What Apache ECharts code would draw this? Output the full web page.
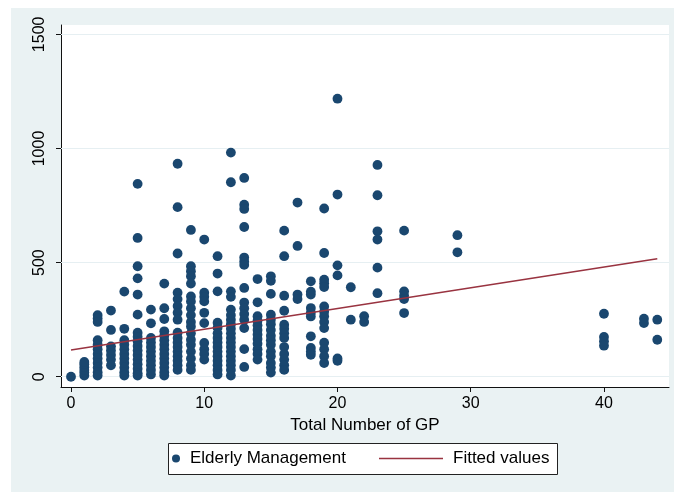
<!DOCTYPE html>
<html>
<head>
<meta charset="utf-8">
<script src="https://cdn.jsdelivr.net/npm/echarts@6/dist/echarts.min.js"></script>
<style>html,body{margin:0;padding:0;background:#fff}#c{width:674px;height:492px}</style>
</head>
<body>
<div id="c"></div>
<script>
// x categories (Total Number of GP) and the Elderly Management values observed at each
const gpValues = [0, 1, 2, 3, 4, 5, 6, 7, 8, 9, 10, 11, 12, 13, 14, 15, 16, 17, 18, 19, 20, 21, 22, 23, 25, 29, 40, 43, 44];
const elderlyByGp = [
  [0],
  [5, 18, 30, 42, 55, 65],
  [270, 255, 240, 160, 140, 120, 100, 80, 60, 40, 20, 5],
  [290, 205, 133, 115, 95, 75, 50],
  [373, 210, 160, 140, 120, 100, 80, 60, 40, 20, 5],
  [845, 608, 484, 431, 360, 272, 193, 175, 155, 135, 115, 95, 75, 55, 35, 15, 5],
  [294, 234, 170, 150, 130, 110, 90, 70, 50, 30, 10],
  [408, 300, 253, 199, 180, 160, 140, 120, 100, 80, 60, 40, 20, 5],
  [933, 743, 540, 368, 340, 310, 280, 250, 193, 170, 150, 130, 110, 90, 70, 50, 30],
  [643, 484, 462, 440, 408, 352, 330, 300, 270, 240, 220, 190, 162, 140, 110, 80, 50, 30],
  [601, 368, 350, 330, 280, 235, 148, 120, 100, 75],
  [528, 452, 374, 237, 215, 190, 170, 150, 130, 110, 90, 70, 50, 30, 10],
  [982, 852, 374, 350, 294, 270, 250, 230, 210, 190, 170, 150, 130, 110, 90, 70, 50, 30, 5],
  [871, 754, 735, 656, 522, 505, 490, 389, 325, 300, 275, 250, 213, 121, 43],
  [428, 326, 265, 245, 225, 205, 185, 165, 145, 120, 100, 75],
  [440, 420, 363, 272, 250, 230, 205, 180, 160, 140, 110, 90, 60, 40, 18],
  [640, 528, 355, 289, 228, 210, 190, 170, 130, 100, 75, 50, 30],
  [763, 573, 360, 340],
  [418, 373, 360, 301, 280, 264, 177, 126, 110, 96],
  [737, 542, 425, 410, 393, 308, 285, 265, 240, 213, 149, 120, 90, 60],
  [1218, 798, 488, 444, 80, 70],
  [392, 250],
  [265, 240],
  [928, 795, 637, 601, 478, 366],
  [640, 374, 355, 340, 279],
  [620, 545],
  [276, 174, 155, 136],
  [254, 235],
  [250, 162]
];
// fitted values line end points
const fitX = [0, 44];
const fitY = [117, 517];
// tick labels
const xTicks = [0, 10, 20, 30, 40];
const yTicks = [0, 500, 1000, 1500];
const seriesNames = ['Elderly Management', 'Fitted values'];

const scatterData = [];
gpValues.forEach((g, i) => elderlyByGp[i].forEach(v => scatterData.push([g, v])));
const fitData = fitX.map((x, i) => [x, fitY[i]]);

const FONT = '"Liberation Sans", Arial, Helvetica, sans-serif';
const chart = echarts.init(document.getElementById('c'), null, {renderer: 'canvas'});
chart.setOption({
  animation: false,
  backgroundColor: '#ffffff',
  textStyle: {fontFamily: FONT, color: '#000'},
  graphic: [
    {type: 'rect', z: -10, shape: {x: 11, y: 8, width: 663, height: 484}, style: {fill: '#eaf2f3'}},
    {type: 'rect', z: -9, shape: {x: 61, y: 25, width: 608, height: 362}, style: {fill: '#ffffff'}},
    {type: 'rect', z: -8, shape: {x: 168.5, y: 443.5, width: 389, height: 31}, style: {fill: '#ffffff', stroke: '#222', lineWidth: 1}}
  ],
  grid: {left: 61, top: 25, right: 5, bottom: 105, containLabel: false},
  xAxis: {
    type: 'value', min: -0.75, max: 44.88,
    axisLine: {show: true, onZero: false, lineStyle: {color: '#111', width: 1}},
    axisTick: {show: true, length: 5, customValues: xTicks, lineStyle: {color: '#111'}},
    axisLabel: {customValues: xTicks, fontSize: 16, margin: 9, color: '#000', fontFamily: FONT,
                formatter: v => String(v)},
    splitLine: {show: false},
    name: 'Total Number of GP', nameLocation: 'middle', nameGap: 25,
    nameTextStyle: {fontSize: 17, color: '#000', fontFamily: FONT}
  },
  yAxis: {
    type: 'value', min: -45, max: 1541,
    axisLine: {show: true, onZero: false, lineStyle: {color: '#111', width: 1}},
    axisTick: {show: true, length: 5, customValues: yTicks, lineStyle: {color: '#111'}},
    axisLabel: {customValues: yTicks, fontSize: 16, margin: 13, rotate: 90, color: '#000', fontFamily: FONT,
                formatter: v => String(v)},
    splitLine: {show: false}
  },
  legend: [
    {data: [{name: seriesNames[0], icon: 'circle'}], left: 172, top: 450, padding: 0,
     itemWidth: 18, itemHeight: 8, itemGap: 0,
     textStyle: {fontSize: 17, color: '#000', fontFamily: FONT}},
    {data: [{name: seriesNames[1], icon: 'rect'}], left: 379, top: 450, padding: 0,
     itemWidth: 64, itemHeight: 1.5, itemGap: 0,
     textStyle: {fontSize: 17, color: '#000', fontFamily: FONT, padding: [0, 0, 0, 5]}}
  ],
  series: [
    {
      name: seriesNames[0], type: 'scatter', z: 2,
      symbol: 'circle', symbolSize: 9.8,
      itemStyle: {color: '#1a476f', opacity: 1},
      data: scatterData,
      markLine: {
        silent: true, symbol: 'none', z: 1, label: {show: false},
        lineStyle: {color: '#e6eff2', width: 1.2, type: 'solid'},
        emphasis: {disabled: true},
        data: yTicks.map(v => ({yAxis: v}))
      }
    },
    {
      name: seriesNames[1], type: 'line', z: 3,
      symbol: 'none', showSymbol: false,
      lineStyle: {color: '#993340', width: 1.5},
      itemStyle: {color: '#993340'},
      data: fitData
    }
  ]
});
</script>
</body>
</html>
